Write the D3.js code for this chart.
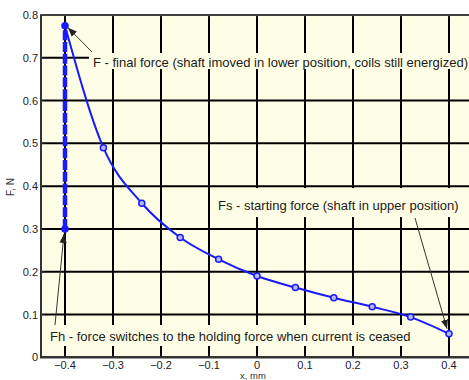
<!DOCTYPE html>
<html>
<head>
<meta charset="utf-8">
<script src="https://cdn.jsdelivr.net/npm/d3@7"></script>
<style>
  html, body { margin: 0; padding: 0; background: #ffffff; }
  svg { display: block; }
  text { font-family: "Liberation Sans", Arial, sans-serif; }
</style>
</head>
<body>
<svg id="chart" width="469" height="380"></svg>
<script>
// Shaft displacement (mm) and electromagnetic force (N)
const xPos  = [-0.4, -0.32, -0.24, -0.16, -0.08, 0, 0.08, 0.16, 0.24, 0.32, 0.4];
const force = [0.775, 0.49, 0.36, 0.28, 0.229, 0.19, 0.163, 0.139, 0.118, 0.094, 0.055];

// Force drop at the lower end position when the current is cut off
const holdX = [-0.4, -0.4];
const holdF = [0.3, 0.775];

const xTicks = [-0.4, -0.3, -0.2, -0.1, 0, 0.1, 0.2, 0.3, 0.4];
const yTicks = [0, 0.1, 0.2, 0.3, 0.4, 0.5, 0.6, 0.7, 0.8];

const plot = { left: 41, top: 15, right: 473, bottom: 357.3 };
const bg = "#fefee6";
const blue = "#1a1aff";

const svg = d3.select("#chart");

const x = d3.scaleLinear().domain([-0.45, 0.45]).range([plot.left, plot.right]);
const y = d3.scaleLinear().domain([0, 0.8]).range([plot.bottom, plot.top]);

// plot background
svg.append("rect")
  .attr("x", plot.left).attr("y", plot.top)
  .attr("width", plot.right - plot.left).attr("height", plot.bottom - plot.top)
  .attr("fill", bg);

// grid lines
const grid = svg.append("g").attr("stroke", "#000").attr("stroke-width", 2);
grid.selectAll("line.gx").data(xTicks).join("line").attr("class", "gx")
  .attr("x1", d => x(d)).attr("x2", d => x(d))
  .attr("y1", plot.top).attr("y2", plot.bottom);
grid.selectAll("line.gy").data(yTicks).join("line").attr("class", "gy")
  .attr("x1", plot.left).attr("x2", plot.right)
  .attr("y1", d => y(d)).attr("y2", d => y(d));

// annotation boxes hide the grid behind the text
const notes = [
  { text: "F - final force (shaft imoved in lower position, coils still energized)",
    tx: 93, ty: 67, box: [89, 53, 380, 16],
    arrow: [[92, 52], [x(-0.4) + 3, y(0.775) + 2]] },
  { text: "Fs - starting force (shaft in upper position)",
    tx: 218, ty: 210, box: [214, 188, 253, 29],
    arrow: [[415, 218], [x(0.4) - 2, y(0.055) - 5]] },
  { text: "Fh -  force switches to the holding force when current is ceased",
    tx: 50, ty: 341, box: [45, 325, 376, 21],
    arrow: [[55, 325], [x(-0.4) - 1, y(0.3) + 5]] }
];

svg.append("g").selectAll("rect").data(notes).join("rect")
  .attr("x", d => d.box[0]).attr("y", d => d.box[1])
  .attr("width", d => d.box[2]).attr("height", d => d.box[3])
  .attr("fill", bg);

// small inward tick marks on the frame
const ticks = svg.append("g").attr("stroke", "#222").attr("stroke-width", 1);
ticks.selectAll("line.tl").data(yTicks).join("line").attr("class", "tl")
  .attr("x1", plot.left).attr("x2", plot.left + 4)
  .attr("y1", d => y(d)).attr("y2", d => y(d));
ticks.selectAll("line.tb").data(xTicks).join("line").attr("class", "tb")
  .attr("x1", d => x(d)).attr("x2", d => x(d))
  .attr("y1", plot.bottom).attr("y2", plot.bottom - 4);
ticks.selectAll("line.tt").data(xTicks).join("line").attr("class", "tt")
  .attr("x1", d => x(d)).attr("x2", d => x(d))
  .attr("y1", plot.top).attr("y2", plot.top + 4);

// frame
svg.append("line").attr("x1", plot.left).attr("x2", plot.right)
  .attr("y1", plot.top).attr("y2", plot.top)
  .attr("stroke", "#555").attr("stroke-width", 1.5);
svg.append("line").attr("x1", plot.left).attr("x2", plot.left)
  .attr("y1", plot.top - 0.75).attr("y2", plot.bottom + 1)
  .attr("stroke", "#333").attr("stroke-width", 2);
svg.append("line").attr("x1", plot.left - 1).attr("x2", plot.right)
  .attr("y1", plot.bottom).attr("y2", plot.bottom)
  .attr("stroke", "#333").attr("stroke-width", 2);

// axis tick labels
const labels = svg.append("g").attr("fill", "#222").attr("font-size", 11);
labels.selectAll("text.yl").data(yTicks).join("text").attr("class", "yl")
  .attr("x", plot.left - 3).attr("y", d => y(d) + 4)
  .attr("text-anchor", "end")
  .text(d => d3.format("")(d));
labels.selectAll("text.xl").data(xTicks).join("text").attr("class", "xl")
  .attr("x", d => x(d)).attr("y", 369)
  .attr("text-anchor", "middle")
  .text(d => d3.format("")(d));

// axis titles
svg.append("text").attr("font-size", 10).attr("fill", "#333")
  .attr("text-anchor", "middle")
  .attr("transform", "translate(14,187) rotate(-90)")
  .text("F, N");
svg.append("text").attr("font-size", 9.5).attr("fill", "#333")
  .attr("text-anchor", "middle")
  .attr("x", 253).attr("y", 379)
  .text("x, mm");

// main force curve
const line = d3.line()
  .x((d, i) => x(xPos[i]))
  .y(d => y(d))
  .curve(d3.curveMonotoneX);
svg.append("path").datum(force)
  .attr("d", line)
  .attr("fill", "none").attr("stroke", blue).attr("stroke-width", 2);

svg.append("g").selectAll("circle").data(force.slice(1)).join("circle")
  .attr("cx", (d, i) => x(xPos[i + 1])).attr("cy", d => y(d))
  .attr("r", 3)
  .attr("fill", "#b8b8ff").attr("stroke", blue).attr("stroke-width", 1.5);

// holding-force drop (dashed)
svg.append("path")
  .attr("d", d3.line().x((d, i) => x(holdX[i])).y(d => y(d))(holdF))
  .attr("fill", "none").attr("stroke", blue).attr("stroke-width", 4.5)
  .attr("stroke-dasharray", "10,1.8");
svg.append("g").selectAll("circle").data(holdF).join("circle")
  .attr("cx", (d, i) => x(holdX[i])).attr("cy", d => y(d))
  .attr("r", 3.8).attr("fill", blue);

// arrow heads
svg.append("defs").append("marker")
  .attr("id", "head").attr("viewBox", "0 0 10 10")
  .attr("refX", 10).attr("refY", 5)
  .attr("markerWidth", 9).attr("markerHeight", 9)
  .attr("markerUnits", "userSpaceOnUse")
  .attr("orient", "auto")
  .append("path").attr("d", "M0,1 L10,5 L0,9 Z").attr("fill", "#222");

const ann = svg.append("g");
ann.selectAll("line").data(notes).join("line")
  .attr("x1", d => d.arrow[0][0]).attr("y1", d => d.arrow[0][1])
  .attr("x2", d => d.arrow[1][0]).attr("y2", d => d.arrow[1][1])
  .attr("stroke", "#333").attr("stroke-width", 1)
  .attr("marker-end", "url(#head)");
ann.selectAll("text").data(notes).join("text")
  .attr("x", d => d.tx).attr("y", d => d.ty)
  .attr("font-size", 13).attr("fill", "#1a1a1a")
  .text(d => d.text);
</script>
</body>
</html>
